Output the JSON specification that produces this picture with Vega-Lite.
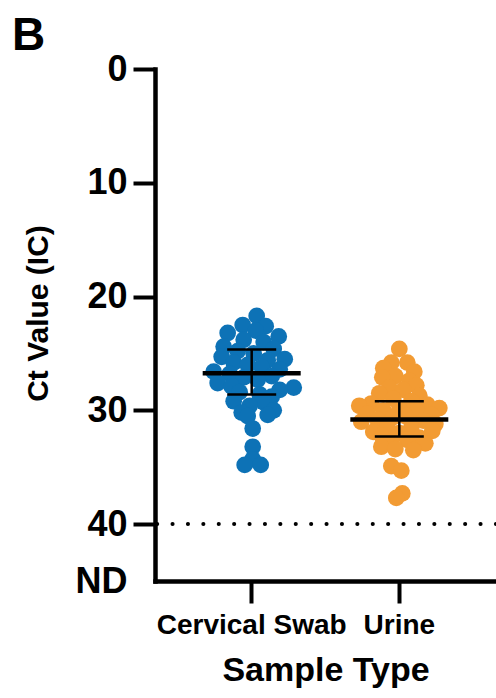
{
  "$schema": "https://vega.github.io/schema/vega-lite/v6.json",
  "autosize": "none",
  "width": 341,
  "height": 512,
  "padding": {"left": 155, "top": 69, "right": 0, "bottom": 117},
  "background": "white",
  "config": {"view": {"stroke": null}, "font": "Liberation Sans"},
  "title": {"text": "B", "fontSize": 46, "fontWeight": "bold", "anchor": "start", "frame": "group", "dx": -143, "dy": 9, "offset": 0, "color": "black"},
  "datasets": {
    "pts": [
      {"group": "Cervical Swab", "ct": 21.7, "jitter": 5},
      {"group": "Cervical Swab", "ct": 22.5, "jitter": -9},
      {"group": "Cervical Swab", "ct": 22.6, "jitter": 14},
      {"group": "Cervical Swab", "ct": 23.0, "jitter": 4},
      {"group": "Cervical Swab", "ct": 23.2, "jitter": -24},
      {"group": "Cervical Swab", "ct": 23.5, "jitter": 27},
      {"group": "Cervical Swab", "ct": 23.8, "jitter": -8},
      {"group": "Cervical Swab", "ct": 24.0, "jitter": 12},
      {"group": "Cervical Swab", "ct": 24.4, "jitter": -28},
      {"group": "Cervical Swab", "ct": 24.6, "jitter": 22},
      {"group": "Cervical Swab", "ct": 24.8, "jitter": -14},
      {"group": "Cervical Swab", "ct": 25.0, "jitter": 2},
      {"group": "Cervical Swab", "ct": 25.3, "jitter": -30},
      {"group": "Cervical Swab", "ct": 25.5, "jitter": 33},
      {"group": "Cervical Swab", "ct": 25.6, "jitter": 16},
      {"group": "Cervical Swab", "ct": 25.8, "jitter": -18},
      {"group": "Cervical Swab", "ct": 26.0, "jitter": -4},
      {"group": "Cervical Swab", "ct": 26.2, "jitter": 10},
      {"group": "Cervical Swab", "ct": 26.4, "jitter": 28},
      {"group": "Cervical Swab", "ct": 26.6, "jitter": -38},
      {"group": "Cervical Swab", "ct": 26.8, "jitter": -22},
      {"group": "Cervical Swab", "ct": 27.0, "jitter": 20},
      {"group": "Cervical Swab", "ct": 27.1, "jitter": -8},
      {"group": "Cervical Swab", "ct": 27.3, "jitter": 6},
      {"group": "Cervical Swab", "ct": 27.6, "jitter": -34},
      {"group": "Cervical Swab", "ct": 27.9, "jitter": -20},
      {"group": "Cervical Swab", "ct": 28.0, "jitter": 42},
      {"group": "Cervical Swab", "ct": 28.2, "jitter": 28},
      {"group": "Cervical Swab", "ct": 28.4, "jitter": -12},
      {"group": "Cervical Swab", "ct": 28.6, "jitter": 8},
      {"group": "Cervical Swab", "ct": 28.8, "jitter": 20},
      {"group": "Cervical Swab", "ct": 29.2, "jitter": -18},
      {"group": "Cervical Swab", "ct": 29.3, "jitter": 12},
      {"group": "Cervical Swab", "ct": 29.6, "jitter": -2},
      {"group": "Cervical Swab", "ct": 30.0, "jitter": 22},
      {"group": "Cervical Swab", "ct": 30.2, "jitter": -10},
      {"group": "Cervical Swab", "ct": 30.4, "jitter": 16},
      {"group": "Cervical Swab", "ct": 30.5, "jitter": -4},
      {"group": "Cervical Swab", "ct": 31.6, "jitter": 1},
      {"group": "Cervical Swab", "ct": 33.2, "jitter": 1},
      {"group": "Cervical Swab", "ct": 34.3, "jitter": 1},
      {"group": "Cervical Swab", "ct": 34.8, "jitter": -7},
      {"group": "Cervical Swab", "ct": 34.8, "jitter": 9},
      {"group": "Urine", "ct": 24.6, "jitter": 0},
      {"group": "Urine", "ct": 25.8, "jitter": -8},
      {"group": "Urine", "ct": 25.8, "jitter": 8},
      {"group": "Urine", "ct": 26.3, "jitter": -16},
      {"group": "Urine", "ct": 26.6, "jitter": 15},
      {"group": "Urine", "ct": 27.0, "jitter": -4},
      {"group": "Urine", "ct": 27.1, "jitter": -17},
      {"group": "Urine", "ct": 27.4, "jitter": 10},
      {"group": "Urine", "ct": 27.8, "jitter": 17},
      {"group": "Urine", "ct": 28.0, "jitter": -10},
      {"group": "Urine", "ct": 28.2, "jitter": 4},
      {"group": "Urine", "ct": 28.5, "jitter": -20},
      {"group": "Urine", "ct": 28.7, "jitter": 20},
      {"group": "Urine", "ct": 29.0, "jitter": -6},
      {"group": "Urine", "ct": 29.2, "jitter": 12},
      {"group": "Urine", "ct": 29.4, "jitter": -28},
      {"group": "Urine", "ct": 29.5, "jitter": 28},
      {"group": "Urine", "ct": 29.6, "jitter": -40},
      {"group": "Urine", "ct": 29.8, "jitter": 40},
      {"group": "Urine", "ct": 29.9, "jitter": 0},
      {"group": "Urine", "ct": 30.0, "jitter": -16},
      {"group": "Urine", "ct": 30.1, "jitter": 18},
      {"group": "Urine", "ct": 30.3, "jitter": -32},
      {"group": "Urine", "ct": 30.4, "jitter": 32},
      {"group": "Urine", "ct": 30.5, "jitter": 6},
      {"group": "Urine", "ct": 30.6, "jitter": -6},
      {"group": "Urine", "ct": 30.8, "jitter": -22},
      {"group": "Urine", "ct": 30.9, "jitter": 24},
      {"group": "Urine", "ct": 31.0, "jitter": -38},
      {"group": "Urine", "ct": 31.2, "jitter": 36},
      {"group": "Urine", "ct": 31.4, "jitter": -12},
      {"group": "Urine", "ct": 31.5, "jitter": 12},
      {"group": "Urine", "ct": 31.8, "jitter": 33},
      {"group": "Urine", "ct": 31.9, "jitter": -26},
      {"group": "Urine", "ct": 32.0, "jitter": 0},
      {"group": "Urine", "ct": 32.2, "jitter": -18},
      {"group": "Urine", "ct": 32.4, "jitter": 20},
      {"group": "Urine", "ct": 32.6, "jitter": 8},
      {"group": "Urine", "ct": 32.7, "jitter": -8},
      {"group": "Urine", "ct": 32.9, "jitter": 26},
      {"group": "Urine", "ct": 33.2, "jitter": -18},
      {"group": "Urine", "ct": 33.4, "jitter": -4},
      {"group": "Urine", "ct": 33.5, "jitter": 14},
      {"group": "Urine", "ct": 34.9, "jitter": -8},
      {"group": "Urine", "ct": 35.3, "jitter": 2},
      {"group": "Urine", "ct": 37.3, "jitter": 3},
      {"group": "Urine", "ct": 37.7, "jitter": -3}
    ],
    "stats": [
      {"group": "Cervical Swab", "mean": 26.75, "lo": 24.65, "hi": 28.6},
      {"group": "Urine", "mean": 30.8, "lo": 29.2, "hi": 32.3}
    ]
  },
  "encoding": {
    "x": {
      "field": "group", "type": "nominal",
      "scale": {"domain": ["Cervical Swab", "Urine"], "paddingInner": 0.2, "paddingOuter": 0.255},
      "axis": {
        "title": "Sample Type", "titleFontSize": 34, "titleFontWeight": "bold", "titleColor": "black", "titlePadding": 14,
        "labelAngle": 0, "labelFontSize": 28, "labelFontWeight": "bold", "labelColor": "black", "labelPadding": 8, "labelLimit": 0,
        "tickSize": 22, "tickWidth": 4, "tickColor": "black",
        "domainWidth": 4.5, "domainColor": "black", "domainCap": "square", "grid": false
      }
    }
  },
  "layer": [
    {
      "data": {"values": [{"lod": 40}]},
      "mark": {"type": "rule", "strokeWidth": 4, "strokeDash": [0.1, 15.3], "strokeCap": "round", "color": "black"},
      "encoding": {"x": null, "y": {"field": "lod", "type": "quantitative"}}
    },
    {
      "data": {"name": "pts"},
      "mark": {"type": "circle", "size": 280, "opacity": 1},
      "encoding": {
        "xOffset": {"field": "jitter", "type": "quantitative", "scale": {"domain": [-59, 59]}},
        "y": {
          "field": "ct", "type": "quantitative",
          "scale": {"domain": [0, 45], "reverse": true, "nice": false, "zero": false},
          "axis": {
            "title": "Ct Value (IC)", "titleFontSize": 30, "titleFontWeight": "bold", "titleColor": "black",
            "titleX": -117, "titleY": 244, "titleAngle": 270, "titleAlign": "center", "titleBaseline": "middle",
            "values": [0, 10, 20, 30, 40, 45],
            "labelExpr": "datum.value == 45 ? 'ND' : datum.label",
            "labelFontSize": 36, "labelFontWeight": "bold", "labelColor": "black", "labelPadding": 6,
            "tickSize": 22, "tickWidth": 4, "tickColor": "black",
            "tickOpacity": {"condition": {"test": "datum.value == 45", "value": 0}, "value": 1},
            "domainWidth": 4.5, "domainColor": "black", "domainCap": "square", "grid": false
          }
        },
        "color": {
          "field": "group", "type": "nominal",
          "scale": {"domain": ["Cervical Swab", "Urine"], "range": ["#0D72B6", "#F29B33"]},
          "legend": null
        }
      }
    },
    {
      "data": {"name": "stats"},
      "mark": {"type": "rule", "strokeWidth": 2.5, "color": "black"},
      "encoding": {"y": {"field": "lo", "type": "quantitative"}, "y2": {"field": "hi"}}
    },
    {
      "data": {"name": "stats"},
      "mark": {"type": "tick", "thickness": 2.5, "size": 49, "color": "black", "opacity": 1},
      "encoding": {"y": {"field": "lo", "type": "quantitative"}}
    },
    {
      "data": {"name": "stats"},
      "mark": {"type": "tick", "thickness": 2.5, "size": 49, "color": "black", "opacity": 1},
      "encoding": {"y": {"field": "hi", "type": "quantitative"}}
    },
    {
      "data": {"name": "stats"},
      "mark": {"type": "tick", "thickness": 4.5, "size": 98, "color": "black", "opacity": 1},
      "encoding": {"y": {"field": "mean", "type": "quantitative"}}
    }
  ]
}
